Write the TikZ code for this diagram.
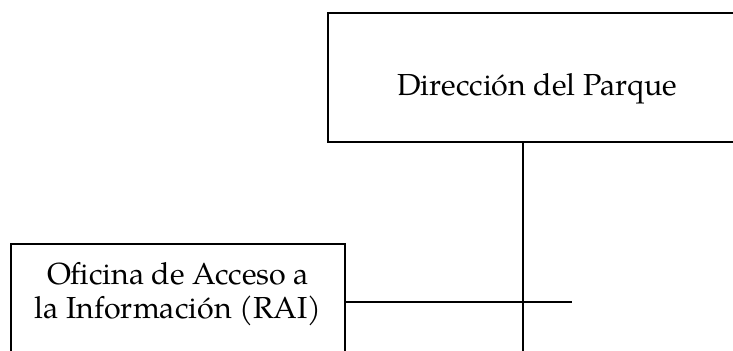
\documentclass[tikz,border=0pt]{standalone}
\usepackage{fontspec}
\setmainfont{TeX Gyre Pagella}
\usepackage{tikz}

\begin{document}
\begin{tikzpicture}[x=0.5pt,y=-0.5pt]
\tikzstyle{box}=[draw,line width=1.1pt,anchor=north west,inner sep=0pt,align=center,
  font=\fontsize{15.2}{17}\selectfont]
\clip (0,0) rectangle (733,350);
\node [box,minimum width=209pt,text height=41pt,text depth=23.5pt] at (327,12) (parque) {Dirección del Parque};
\node [box,minimum width=167pt,text height=37pt,text depth=40pt] at (10,243) (rai) {Oficina de Acceso a\\la Información (RAI)};
\coordinate (bajo) at (523,360);
\coordinate (fin) at (572,302);
\draw[line width=0.9pt]
    (parque.south -| bajo) -- (bajo)
    (fin -| rai.east) -- (fin);
\end{tikzpicture}
\end{document}
